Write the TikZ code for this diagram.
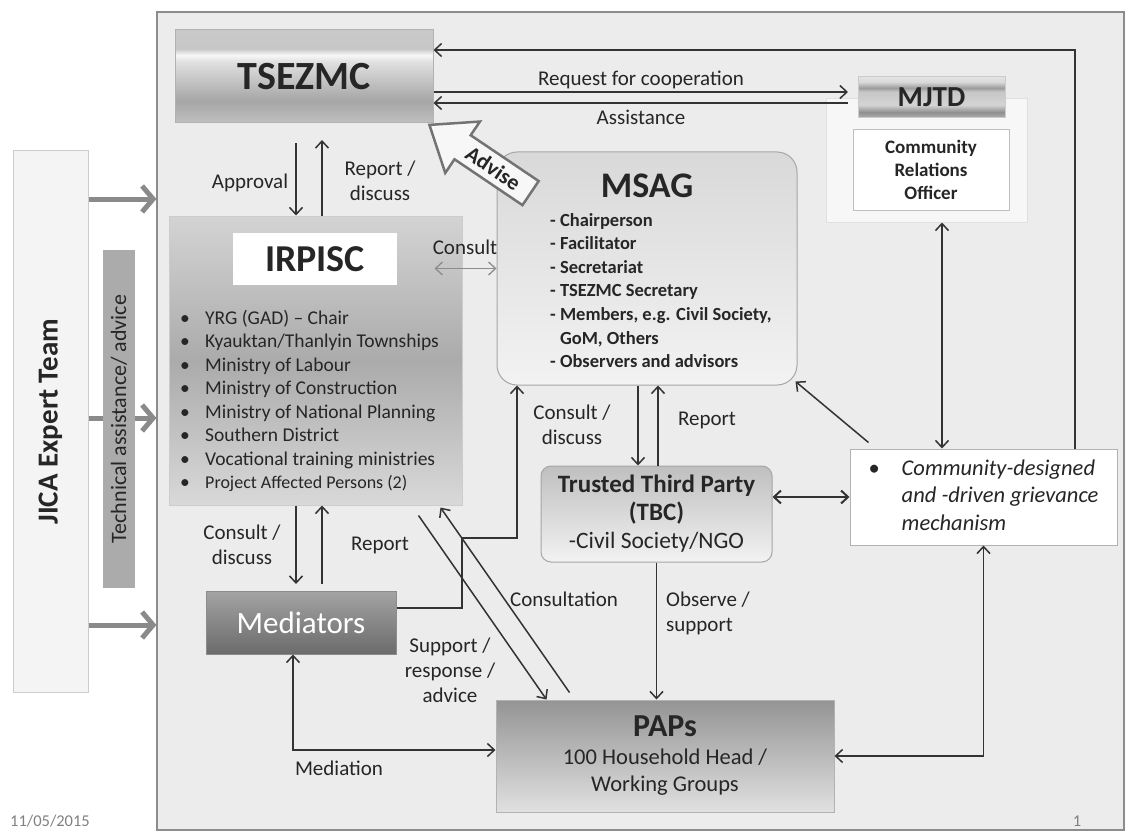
\documentclass[tikz,border=0pt]{standalone}
\usepackage{fontspec}
\setmainfont{Carlito}
\usepackage{xcolor}
\definecolor{diagInk}{HTML}{262626}
\definecolor{diagLine}{HTML}{333333}
\definecolor{diagFrame}{HTML}{ECECEC}
\definecolor{diagFrameLine}{HTML}{8C8C8C}
\definecolor{diagPale}{HTML}{F4F4F4}
\definecolor{diagMid}{HTML}{ABABAB}
\definecolor{diagFat}{HTML}{8A8A8A}
\usepackage{tikz}
\usetikzlibrary{shapes, arrows.meta, positioning, calc}

% metallic bands of the two title boxes
\pgfdeclareverticalshading{tsezShade}{100bp}{color(0bp)=(black!25); color(25bp)=(black!25); color(37bp)=(black!35); color(58bp)=(black!12); color(61.5bp)=(black!3); color(65bp)=(black!22); color(75bp)=(black!21); color(100bp)=(black!21)}
\pgfdeclareverticalshading{mjtdShade}{100bp}{color(0bp)=(black!31); color(25bp)=(black!31); color(32bp)=(black!44); color(41bp)=(black!17); color(57bp)=(black!22); color(61.6bp)=(black!39); color(69bp)=(black!15); color(75bp)=(black!11); color(100bp)=(black!11)}

\newcommand{\irbul}{\makebox[25pt][l]{\textbullet}}

\begin{document}
\begin{tikzpicture}[x=1pt, y=-1pt,
    box/.style={draw=black!30, line width=1pt, inner sep=0pt, align=center, text=diagInk},
    link/.style={draw=diagLine, line width=1.5pt, -{Straight Barb[length=7pt,width=13pt]}},
    twoway/.style={draw=diagLine, line width=1.5pt, {Straight Barb[length=7pt,width=13pt]}-{Straight Barb[length=7pt,width=13pt]}},
    consultlink/.style={draw=black!45, line width=1.3pt, {Straight Barb[length=7pt,width=13pt]}-{Straight Barb[length=7pt,width=13pt]}},
    fatlink/.style={draw=diagFat, line width=5pt, -{Straight Barb[length=11pt,width=26pt]}},
    lbl/.style={text=diagInk, font=\fontsize{21}{25}\selectfont, align=center, inner sep=1pt}]
\useasboundingbox (0,0) rectangle (1130,832);

% frame of the mechanism
\node[draw=diagFrameLine, line width=1.2pt, fill=diagFrame, minimum width=967pt, minimum height=818pt, inner sep=0pt] (frame) at (640.5,421) {};

% JICA side
\node[draw=black!20, line width=1pt, fill=diagPale, rotate=90, minimum width=541pt, minimum height=75pt, inner sep=0pt, text=diagInk, font=\bfseries\fontsize{29}{34}\selectfont] (jica) at (50.5,421.5) {JICA Expert Team};
\foreach \y in {199,418,625}
    \draw[fatlink] (jica.south |- 0,\y) -- (frame.west |- 0,\y);
\node[fill=diagMid, rotate=90, minimum width=338pt, minimum height=32pt, inner sep=0pt, text=diagInk, font=\fontsize{22}{26}\selectfont] (tech) at (119,419) {Technical assistance/ advice};

% boxes
\node[box, shade, shading=tsezShade, minimum width=258pt, minimum height=93pt, font=\bfseries\fontsize{40}{46}\selectfont] (tsezmc) at (304,76.5) {TSEZMC};

\node[fill=black!3, draw=black!12, line width=1pt, minimum width=201pt, minimum height=123pt, inner sep=0pt] (mjtdbox) at (926.5,160.5) {};
\node[box, shade, shading=mjtdShade, draw=black!20, minimum width=147pt, minimum height=41pt, font=\bfseries\fontsize{29}{34}\selectfont] (mjtd) at (931.5,97.5) {MJTD};
\node[box, fill=white, draw=black!25, minimum width=156pt, minimum height=80pt, font=\bfseries\fontsize{19}{23}\selectfont] (cro) at (931,170) {Community\\Relations\\Officer};

\node[box, top color=black!17, bottom color=black!15, middle color=black!33, draw=black!20, minimum width=293pt, minimum height=289pt] (irpisc) at (315.5,360.5) {};
\node[box, fill=white, draw=none, minimum width=164pt, minimum height=52pt, font=\bfseries\fontsize{38}{44}\selectfont] (irtitle) at (315,259) {IRPISC};
\node[anchor=north west, align=left, inner sep=0pt, text=diagInk, font=\fontsize{19.5}{23.5}\selectfont] (irlist) at (180,310) {\irbul YRG (GAD) – Chair\\
    \irbul Kyauktan/Thanlyin Townships\\
    \irbul Ministry of Labour\\
    \irbul Ministry of Construction\\
    \irbul Ministry of National Planning\\
    \irbul Southern District\\
    \irbul Vocational training ministries\\
    \irbul{\fontsize{18}{23.5}\selectfont Project Affected Persons (2)}};

\node[box, rounded corners=20pt, top color=black!15, bottom color=black!5, draw=black!35, minimum width=300pt, minimum height=233pt] (msag) at (647,268.5) {};
\node[inner sep=0pt, text=diagInk, font=\bfseries\fontsize{36}{42}\selectfont] (msagtitle) at (647,186) {MSAG};
\node[anchor=north west, align=left, inner sep=0pt, text=diagInk, font=\bfseries\fontsize{18.5}{23.6}\selectfont] (msaglist) at (550,213) {- Chairperson\\
    - Facilitator\\
    - Secretariat\\
    - TSEZMC Secretary\\
    - Members, e.g. Civil Society,\\
    \phantom{- }GoM, Others\\
    - Observers and advisors};

\node[box, rounded corners=10pt, top color=black!25, bottom color=black!5, draw=black!35, minimum width=231pt, minimum height=96pt, font=\fontsize{25}{28}\selectfont] (ttp) at (656.5,514) {{\bfseries Trusted Third Party}\\{\bfseries (TBC)}\\{\fontsize{23.5}{28}\selectfont -Civil Society/NGO}};

\node[box, fill=white, draw=black!30, minimum width=267pt, minimum height=96pt, font=\fontsize{22.5}{27.5}\selectfont] (griev) at (983.5,497) {\begin{tabular}{@{}l@{\hspace{22pt}}l@{}}
    \textbullet & \itshape Community-designed\\
     & \itshape and -driven grievance\\
     & \itshape mechanism
    \end{tabular}};

\node[box, top color=black!36, bottom color=black!58, draw=black!45, minimum width=190pt, minimum height=63pt, text=white, font=\fontsize{31}{36}\selectfont] (med) at (301,622.5) {Mediators};

\node[box, top color=black!42, bottom color=black!12, draw=black!30, minimum width=338pt, minimum height=112pt, font=\fontsize{22.5}{27.5}\selectfont] (paps) at (665,756) {{\bfseries\fontsize{32}{36}\selectfont PAPs}\\100 Household Head /\\Working Groups};

% advise arrow (hollow block arrow pointing at TSEZMC)
\begin{scope}[shift={(480,159)}, rotate=-34]
    \draw[draw=black!55, line width=2.5pt, fill=black!3, line join=miter]
        (-61,0) -- (-21,-31) -- (-21,-14.5) -- (61,-14.5) -- (61,14.5) -- (-21,14.5) -- (-21,31) -- cycle;
    \node[rotate=-34, inner sep=0pt, text=diagInk, font=\bfseries\fontsize{22}{26}\selectfont] (advise) at (16,0) {Advise};
\end{scope}

% connectors
\coordinate (appr) at (296,143);
\coordinate (repd) at (322,140);
\draw[link] (appr) -- (appr |- irpisc.north);
\draw[link] (repd |- irpisc.north) -- (repd);

\coordinate (mjtdin) at (848,92);
\coordinate (mjtdout) at (848,103);
\draw[link] (tsezmc.east |- mjtdin) -- (mjtdin);
\draw[link] (mjtdout) -- (tsezmc.east |- mjtdout);

\coordinate (loopr) at (1075,50);
\draw[link] (loopr |- griev.north) -- (loopr) -- (tsezmc.east |- loopr);

\draw[consultlink] ([xshift=-62pt]msag.west) -- (msag.west);

\coordinate (crox) at (942,0);
\draw[twoway] (crox |- mjtdbox.south) -- (crox |- griev.north);
\draw[link] ($(griev.north west)+(19,-6)$) -- ($(msag.south east)+(-2,-4)$);
\draw[twoway, line width=2pt] (ttp.east |- griev.west) -- (griev.west);

\coordinate (cdx) at (638,0);
\coordinate (rpx) at (658,0);
\draw[link] (cdx |- msag.south) -- (cdx |- ttp.north);
\draw[link] (rpx |- ttp.north) -- (rpx |- msag.south);
\draw[link] (ttp.south) -- (ttp.south |- paps.north);

\coordinate (cdm) at (296,584);
\coordinate (rpm) at (322,584);
\draw[link] (cdm |- irpisc.south) -- (cdm);
\draw[link] (rpm) -- (rpm |- irpisc.south);

\coordinate (mbend) at (462,538);
\coordinate (mtop) at (517,0);
\draw[link] ($(med.east)+(0,-14.5)$) -| (mbend) -- (mbend -| mtop) -- (mtop |- msag.south);

\draw[link] ($(irpisc.south east)+(-44,10)$) -- ($(paps.north west)+(51,0)$);
\draw[link] ($(paps.north west)+(74,-7)$) -- ($(irpisc.south east)+(-22,2)$);

\coordinate (medx) at (293,0);
\draw[twoway] (medx |- med.south) |- ($(paps.west)+(0,-6)$);
\draw[twoway] (paps.east) -| (griev.south);

% labels
\node[lbl] (lappr) at (250,183) {Approval};
\node[lbl] (lrepd) at (380,181) {Report /\\discuss};
\node[lbl] (lreq) at (641,80) {Request for cooperation};
\node[lbl] (lassist) at (641,117) {Assistance};
\node[lbl] (lcons) at (465,247) {Consult};
\node[lbl] (lcdm) at (242,545) {Consult /\\discuss};
\node[lbl] (lrpm) at (380,545) {Report};
\node[lbl] (lcdx) at (572,425) {Consult /\\discuss};
\node[lbl] (lrpx) at (707,420) {Report};
\node[lbl] (lconsult) at (564,599) {Consultation};
\node[lbl, anchor=west, align=left] (lobs) at (665,613) {Observe /\\support};
\node[lbl] (lsupp) at (450,670) {Support /\\response /\\advice};
\node[lbl] (lmed) at (339,768) {Mediation};

\node[text=black!50, inner sep=0pt, font=\fontsize{16.5}{20}\selectfont] (date) at (50,821) {11/05/2015};
\node[text=black!50, inner sep=0pt, font=\fontsize{16.5}{20}\selectfont] (pagenum) at (1077,821) {1};
\end{tikzpicture}
\end{document}
